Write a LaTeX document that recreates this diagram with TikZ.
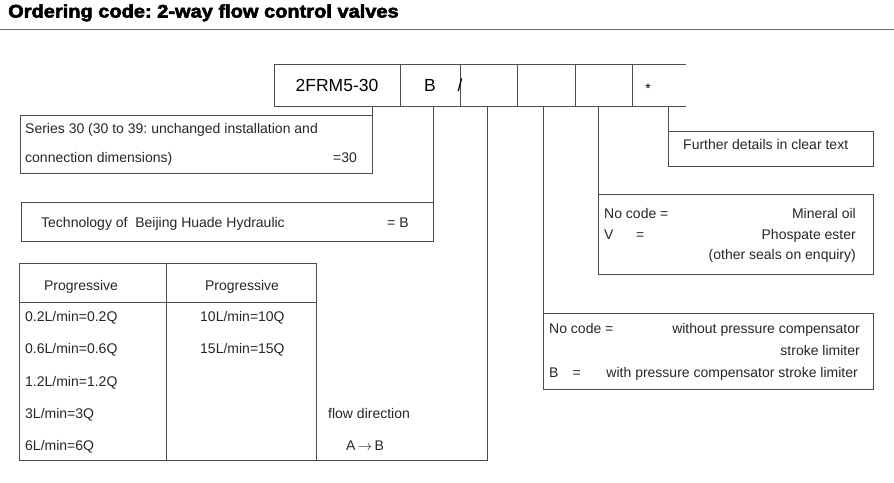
\documentclass[tikz,border=0pt]{standalone}
\usepackage{fontspec}
\setmainfont{Liberation Sans}
\newfontfamily\titlefont[FakeBold=3,FakeStretch=1.1]{Liberation Sans Bold}
\usepackage{tikz}
\frenchspacing
\tikzstyle{box} = [rectangle, draw=black!70, line width=1pt, inner sep=0pt, outer sep=0pt, anchor=north west]
\tikzstyle{cell} = [box, minimum height=42, font=\fontsize{17.5}{20}\selectfont]
\tikzstyle{txt} = [inner sep=0pt, anchor=base west, text=black!85, font=\fontsize{14}{16}\selectfont]
\tikzstyle{rtxt} = [txt, anchor=base east]
\tikzstyle{line} = [draw=black!70, line width=1pt]

\begin{document}
\begin{tikzpicture}[x=1pt, y=-1pt]
	\useasboundingbox (0,0) rectangle (894,482);
	\node [txt, font=\titlefont\fontsize{18.2}{20}\selectfont, text=black] (title) at (8,17.5) {Ordering code: 2-way flow control valves};
	\path [line, draw=black!60, line width=1.3pt] (0,29.3) -- (894,29.3);
	% code row
	\node [cell, minimum width=126] (code) at (274,64) {2FRM5-30};
	\node [cell, minimum width=60] (cellb) at (400,64) {B};
	\node [cell, minimum width=57] (cellc) at (460,64) {};
	\node [cell, minimum width=58] (celld) at (517,64) {};
	\node [cell, minimum width=57] (celle) at (575,64) {};
	\node [cell, draw=none, minimum width=54] (cellf) at (632,64) {};
	\path [line] (cellf.north west) -- (cellf.north east);
	\path [line] (cellf.south west) -- (cellf.south east);
	\node [inner sep=0pt, font=\fontsize{17.5}{20}\selectfont] (slash) at (cellc.west) {/};
	\node [inner sep=0pt, font=\fontsize{14}{16}\selectfont] (star) at (648,89) {*};
	% boxes
	\node [box, minimum width=352, minimum height=58] (series) at (20,115) {};
	\node [box, minimum width=412, minimum height=39] (tech) at (21,202) {};
	\node [box, minimum width=147, minimum height=39] (head1) at (19,263) {};
	\node [box, minimum width=150, minimum height=39] (head2) at (166,263) {};
	\node [box, minimum width=147, minimum height=158] (col1) at (19,302) {};
	\node [box, minimum width=150, minimum height=158] (col2) at (166,302) {};
	\coordinate (tabend) at (487,460);
	\node [box, minimum width=205, minimum height=35] (further) at (668,131) {};
	\node [box, minimum width=275, minimum height=80] (seals) at (598,194) {};
	\node [box, minimum width=330, minimum height=76] (press) at (543,313) {};
	% connectors
	\path [line] (series.north east |- code.south) -- (series.north east);
	\path [line] (tech.north east |- cellb.south) -- (tech.north east);
	\path [line] (tabend |- cellc.south) -- (tabend) -- (col2.south east);
	\path [line] (press.north west |- celld.south) -- (press.north west);
	\path [line] (seals.north west |- celle.south) -- (seals.north west);
	\path [line] (further.north west |- cellf.south) -- (further.north west);
	% texts
	\node [txt] (ser1) at (25,133) {Series 30 (30 to 39: unchanged installation and};
	\node [txt] (ser2) at (25,162) {connection dimensions)};
	\node [txt] (ser3) at (333,162) {=30};
	\node [txt] (tech1) at (41,227) {Technology of~ Beijing Huade Hydraulic};
	\node [txt] (tech2) at (387,227) {= B};
	\node [txt, anchor=base] (prog1) at (81,290) {Progressive};
	\node [txt, anchor=base] (prog2) at (242,290) {Progressive};
	\node [txt] (q02) at (25,321.5) {0.2L/min=0.2Q};
	\node [txt] (q06) at (25,353.8) {0.6L/min=0.6Q};
	\node [txt] (q12) at (25,386) {1.2L/min=1.2Q};
	\node [txt] (q3) at (25,418.3) {3L/min=3Q};
	\node [txt] (q6) at (25,450.6) {6L/min=6Q};
	\node [txt] (q10) at (200,321.5) {10L/min=10Q};
	\node [txt] (q15) at (200,353.8) {15L/min=15Q};
	\node [txt] (flowdir) at (328,418.3) {flow direction};
	\node [txt] (flowab) at (346,450.6) {A\,$\rightarrow$\,B};
	\node [txt] (details) at (683,149) {Further details in clear text};
	\node [txt] (oil1) at (604,218) {No code =};
	\node [rtxt] (oil2) at (856,218) {Mineral oil};
	\node [txt] (v1) at (604,239) {V\hspace{22.5pt}=};
	\node [rtxt] (v2) at (856,239) {Phospate ester};
	\node [rtxt] (oil3) at (856,259) {(other seals on enquiry)};
	\node [txt] (pc1) at (549,333) {No code =};
	\node [rtxt] (pc2) at (860,333) {without pressure compensator};
	\node [rtxt] (pc3) at (860,355) {stroke limiter};
	\node [txt] (pc4) at (549,377) {B\hspace{14pt}=};
	\node [rtxt] (pc5) at (858,377) {with pressure compensator stroke limiter};
\end{tikzpicture}
\end{document}
